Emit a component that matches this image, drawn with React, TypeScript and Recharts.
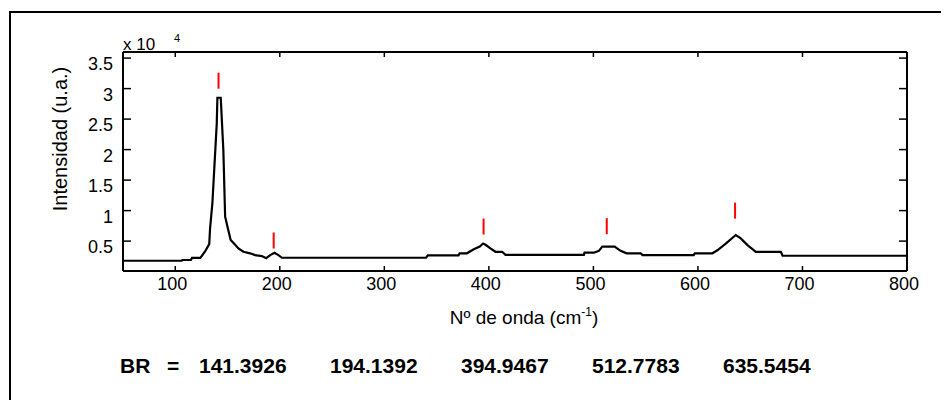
import { useEffect } from 'react'
import { ComposedChart, Line, Scatter, XAxis, YAxis } from 'recharts'

// wavenumber (cm-1) and intensity (x 10^4 a.u.)
const wavenumbers = [
  50, 106, 107, 115, 116, 124, 128.5, 132.5, 133.3, 135.5, 139.7, 140.3, 143.5, 146, 147.7,
  150.3, 153, 157.3, 160.4, 165.2, 171.6, 176.4, 182.8, 187, 190.8, 194.9, 198.7, 202, 340,
  341.6, 371, 372, 379, 385.6, 391.3, 394.5, 396.8, 401.5, 406.3, 412.7, 415.9, 490.9, 491.5,
  500.5, 505.3, 508.5, 520.3, 526, 531.8, 545.2, 547, 596, 597, 613.8, 618.6, 626.6, 636.2,
  641, 647.4, 655.4, 663.4, 679.3, 681, 800,
]
const intensities = [
  0.178, 0.178, 0.19, 0.19, 0.225, 0.225, 0.33, 0.45, 0.71, 1.12, 2.43, 2.85, 2.85, 1.99, 0.9,
  0.71, 0.52, 0.44, 0.38, 0.325, 0.3, 0.27, 0.255, 0.22, 0.27, 0.31, 0.27, 0.227, 0.227,
  0.265, 0.265, 0.3, 0.3, 0.365, 0.41, 0.46, 0.44, 0.38, 0.325, 0.325, 0.275, 0.275, 0.31,
  0.31, 0.34, 0.41, 0.41, 0.34, 0.3, 0.3, 0.27, 0.27, 0.3, 0.3, 0.35, 0.46, 0.6,
  0.545, 0.435, 0.325, 0.325, 0.325, 0.26, 0.26,
]

// detected band positions and the height of their red marks
const brPeaks = [141.3926, 194.1392, 394.9467, 512.7783, 635.5454]
const markerLevels = [3.13, 0.51, 0.74, 0.745, 1.0]

const xTicks = [100, 200, 300, 400, 500, 600, 700, 800]
const yTicks = [0.5, 1, 1.5, 2, 2.5, 3, 3.5]

const spectrum = wavenumbers.map((x, i) => ({ x, y: intensities[i] }))
const markers = brPeaks.map((x, i) => ({ x, y: markerLevels[i] }))

const FONT = '"Liberation Sans", Arial, Helvetica, sans-serif'
const W = 941
const H = 392
const PLOT_L = 115
const PLOT_R = 899
const PLOT_T = 44
const PLOT_B = 263
const X_DOMAIN: [number, number] = [50, 800]
const Y_DOMAIN: [number, number] = [0.01, 3.6]

const BottomTick = (props: any) => {
  const { x, payload } = props
  return (
    <g>
      <line x1={x} x2={x} y1={PLOT_B} y2={PLOT_B - 5} stroke="#000" strokeWidth={1.5} />
      <text x={x - 3} y={PLOT_B + 13} textAnchor="middle" dominantBaseline="central" fontSize={18} fontFamily={FONT} fill="#000">
        {payload.value}
      </text>
    </g>
  )
}

const TopTick = (props: any) => (
  <line x1={props.x} x2={props.x} y1={PLOT_T} y2={PLOT_T + 5} stroke="#000" strokeWidth={1.5} />
)

const LeftTick = (props: any) => {
  const { y, payload } = props
  return (
    <g>
      <line x1={PLOT_L} x2={PLOT_L + 8} y1={y} y2={y} stroke="#000" strokeWidth={1.5} />
      <text x={PLOT_L - 10} y={y + 6} textAnchor="end" dominantBaseline="central" fontSize={18} fontFamily={FONT} fill="#000">
        {payload.value}
      </text>
    </g>
  )
}

const RightTick = (props: any) => (
  <line x1={PLOT_R} x2={PLOT_R - 8} y1={props.y} y2={props.y} stroke="#000" strokeWidth={1.5} />
)

const PeakMark = (props: any) => {
  const { cx, cy } = props
  return <line x1={cx} x2={cx} y1={cy - 8} y2={cy + 8} stroke="#ff0000" strokeWidth={2} />
}

export default function App() {
  useEffect(() => {
    document.documentElement.style.overflow = 'hidden'
    document.body.style.overflow = 'hidden'
  }, [])

  const axisLine = { stroke: '#000', strokeWidth: 2 }

  return (
    <div style={{ position: 'relative', width: W, height: H, overflow: 'hidden', fontFamily: FONT, color: '#000' }}>
      <div style={{ position: 'absolute', left: 1, top: 3, width: W, height: H, borderTop: '2px solid #000', borderLeft: '2px solid #000' }} />
      <ComposedChart
        width={W}
        height={H}
        data={spectrum}
        margin={{ top: PLOT_T - 1, right: W - PLOT_R - 1, bottom: H - PLOT_B - 30, left: PLOT_L - 60 }}
        style={{ position: 'absolute', left: 0, top: 0 }}
      >
        <XAxis
          dataKey="x"
          type="number"
          domain={X_DOMAIN}
          ticks={xTicks}
          allowDataOverflow
          height={30}
          axisLine={axisLine}
          tickLine={false}
          tick={<BottomTick />}
        />
        <XAxis
          xAxisId="top"
          orientation="top"
          dataKey="x"
          type="number"
          domain={X_DOMAIN}
          ticks={xTicks}
          allowDataOverflow
          height={1}
          axisLine={axisLine}
          tickLine={false}
          tick={<TopTick />}
        />
        <YAxis
          type="number"
          domain={Y_DOMAIN}
          ticks={yTicks}
          allowDataOverflow
          width={60}
          axisLine={axisLine}
          tickLine={false}
          tick={<LeftTick />}
        />
        <YAxis
          yAxisId="right"
          orientation="right"
          type="number"
          domain={Y_DOMAIN}
          ticks={yTicks}
          allowDataOverflow
          width={1}
          axisLine={axisLine}
          tickLine={false}
          tick={<RightTick />}
        />
        <Line
          dataKey="y"
          type="linear"
          stroke="#000"
          strokeWidth={2.2}
          dot={false}
          activeDot={false}
          isAnimationActive={false}
        />
        <Scatter
          data={markers}
          dataKey="y"
          xAxisId="top"
          yAxisId="right"
          shape={<PeakMark />}
          isAnimationActive={false}
        />
      </ComposedChart>

      <div style={{ position: 'absolute', left: 115, top: 27, fontSize: 17, lineHeight: '19px', whiteSpace: 'nowrap' }}>
        x 10
      </div>
      <div style={{ position: 'absolute', left: 166, top: 24, fontSize: 11, lineHeight: '12px' }}>4</div>

      <div
        style={{
          position: 'absolute',
          left: 52,
          top: 131,
          fontSize: 20,
          whiteSpace: 'nowrap',
          transform: 'translate(-50%, -50%) rotate(-90deg)',
        }}
      >
        Intensidad (u.a.)
      </div>

      <div
        style={{
          position: 'absolute',
          left: 516,
          top: 309,
          fontSize: 19,
          whiteSpace: 'nowrap',
          transform: 'translate(-50%, -50%)',
        }}
      >
        Nº de onda (cm<sup style={{ fontSize: 12 }}>-1</sup>)
      </div>

      <div style={{ position: 'absolute', left: 112, top: 345, fontSize: 21, fontWeight: 'bold', lineHeight: '26px' }}>BR</div>
      <div style={{ position: 'absolute', left: 159, top: 345, fontSize: 21, fontWeight: 'bold', lineHeight: '26px' }}>=</div>
      {brPeaks.map((v, i) => (
        <div
          key={v}
          style={{ position: 'absolute', left: 191 + i * 131, top: 345, fontSize: 21, fontWeight: 'bold', lineHeight: '26px', whiteSpace: 'nowrap' }}
        >
          {v.toFixed(4)}
        </div>
      ))}
    </div>
  )
}
